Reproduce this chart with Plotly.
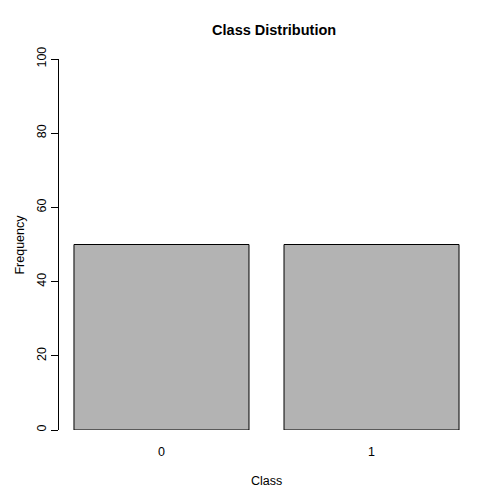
import plotly.graph_objects as go

classes = [0, 1]
class_labels = ["0", "1"]
counts = [50, 50]

fig = go.Figure()
fig.add_trace(go.Bar(x=classes, y=counts, width=0.8333,
                     marker=dict(color="#b3b3b3", line=dict(color="black", width=1))))

fig.update_layout(
    width=504, height=504,
    margin=dict(l=51, r=38, t=51, b=82),
    plot_bgcolor="white", paper_bgcolor="white",
    font=dict(family="Liberation Sans, Arial", size=12.5, color="black"),
    showlegend=False,
    title=dict(text="<b>Class Distribution</b>", x=0.528, xanchor="center",
               y=0.956, yanchor="middle", font=dict(size=14.5)),
    xaxis=dict(range=[-0.488, 1.488], tickvals=classes, ticktext=class_labels,
               showline=False, showgrid=False, zeroline=False, ticks="",
               ticklabelstandoff=12),
    yaxis=dict(range=[0, 100], tickvals=[0, 20, 40, 60, 80, 100],
               showline=True, linecolor="black", linewidth=1,
               ticks="outside", ticklen=7, tickcolor="black",
               tickangle=-90, showgrid=False, zeroline=False),
    annotations=[
        dict(text="Class", x=0.5, xref="paper", y=-0.137, yref="paper",
             showarrow=False, yanchor="middle", font=dict(size=12.5)),
        dict(text="Frequency", x=-0.118, xref="paper", y=0.5, yref="paper",
             showarrow=False, textangle=-90, font=dict(size=12.5)),
    ],
)

fig.write_html("out.html")
